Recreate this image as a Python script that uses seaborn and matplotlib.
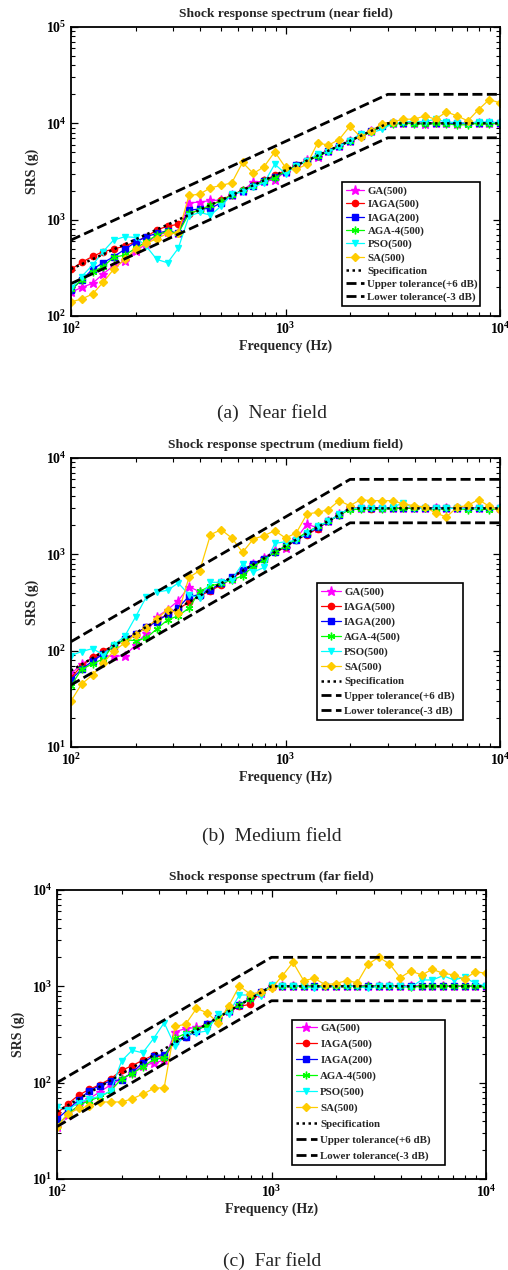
import matplotlib
matplotlib.use("Agg")
import matplotlib.pyplot as plt
import seaborn as sns
import pandas as pd
from matplotlib.ticker import LogLocator, NullFormatter

# ---------------- data ----------------
freq = [100, 112, 126, 141, 158, 178, 200, 224, 251, 282, 316, 355, 398, 447, 501,
        562, 631, 708, 794, 891, 1000, 1122, 1259, 1413, 1585, 1778, 1995, 2239, 2512,
        2818, 3162, 3548, 3981, 4467, 5012, 5623, 6310, 7079, 7943, 8913, 10000]

series_names = ["GA(500)", "IAGA(500)", "IAGA(200)", "AGA-4(500)", "PSO(500)", "SA(500)"]
ref_names = ["Specification", "Upper tolerance(+6 dB)", "Lower tolerance(-3 dB)"]

# near field
near_ga = [176, 198, 218, 273, 333, 372, 470, 560, 690, 740, 720, 1497, 1520, 1582, 1596, 1790, 2000,
           2450, 2500, 2600, 3150, 3600, 4150, 4500, 5200, 5800, 6500, 7500, 8300, 9500, 10000,
           10100, 10050, 9950, 10000, 10000, 9900, 10050, 10000, 10000, 10000]
near_iaga500 = [305, 360, 415, 465, 495, 532, 590, 665, 780, 858, 893, 1150, 1270, 1400, 1600, 1800,
                2020, 2280, 2560, 2880, 3240, 3650, 4100, 4620, 5200, 5850, 6580, 7400, 8320, 9360,
                10000, 10000, 10000, 10000, 10000, 10000, 10000, 10000, 10000, 10000, 10000]
near_iaga200 = [186, 236, 305, 357, 412, 491, 585, 665, 720, 767, 720, 1256, 1290, 1310, 1500, 1800,
                2000, 2250, 2550, 2780, 3100, 3650, 4100, 4600, 5200, 5850, 6550, 7400, 8300, 9400,
                10000, 10000, 10000, 10000, 10000, 10000, 10000, 10000, 10000, 10000, 10000]
near_aga4 = [189, 236, 288, 325, 406, 429, 503, 590, 692, 761, 720, 1161, 1256, 1415, 1580, 1790,
             2010, 2250, 2520, 2700, 3200, 3600, 4100, 4550, 5150, 5800, 6550, 7300, 8200, 9300,
             9800, 10000, 9900, 9800, 10000, 9900, 9600, 9700, 10000, 9900, 10000]
near_pso = [194, 256, 338, 465, 614, 665, 654, 532, 387, 357, 503, 1089, 1189, 1115, 1383, 1827,
            1950, 2200, 2400, 3770, 3000, 3600, 4100, 4800, 5000, 5700, 6500, 7840, 8000, 8630,
            10000, 10300, 10500, 10400, 11040, 10300, 10200, 10000, 10400, 10300, 10180]
near_sa = [140, 150, 169, 223, 305, 387, 491, 567, 634, 720, 720, 1783, 1840, 2143, 2265, 2415, 3925,
           3015, 3540, 5060, 3480, 3320, 3770, 6270, 5930, 6790, 9340, 7240, 8350, 9950, 10350,
           11040, 11040, 11950, 11040, 13150, 11950, 10610, 13900, 17660, 16300]
near_ref_freq = [100, 3000, 10000]
near_spec = [307, 10000, 10000]
near_upper = [614, 20000, 20000]
near_lower = [217, 7080, 7080]

# medium field
med_ga = [57, 73, 84, 89, 87, 89, 114, 152, 224, 266, 330, 460, 410, 430, 500, 560, 690, 790, 920,
          1100, 1150, 1450, 2060, 1880, 2200, 2600, 3000, 3000, 3000, 3000, 3000, 3000, 3000, 3000,
          3000, 3000, 3000, 3000, 3000, 3000, 3000]
med_iaga500 = [52, 70, 85, 100, 113, 131, 150, 175, 205, 238, 270, 320, 371, 420, 480, 560, 672, 780,
               904, 1049, 1180, 1412, 1600, 1850, 2200, 2558, 3000, 3000, 2950, 3000, 3000, 3000,
               3000, 3000, 3000, 3000, 3000, 3000, 3000, 3000, 3000]
med_iaga200 = [50, 64, 78, 92, 113, 131, 150, 175, 200, 240, 280, 366, 381, 430, 499, 580, 693, 790,
               904, 1049, 1217, 1400, 1640, 1900, 2200, 2558, 3000, 3000, 3000, 3050, 3000, 3000,
               3000, 3000, 3000, 3000, 3000, 3000, 3000, 3000, 3000]
med_aga4 = [43, 64, 73, 82, 115, 130, 127, 135, 168, 209, 230, 277, 412, 470, 500, 540, 600, 750, 880,
            1049, 1217, 1450, 1700, 1950, 2205, 2558, 2900, 2950, 3000, 2950, 3000, 3000, 3000, 3000,
            2950, 3000, 3000, 2900, 3000, 2900, 3000]
med_pso = [89, 98, 105, 91, 115, 141, 224, 358, 406, 423, 504, 381, 352, 512, 512, 546, 800, 656,
           730, 1300, 1350, 1397, 1650, 1950, 2200, 2600, 3000, 3000, 3000, 3000, 3100, 3410, 3000,
           3000, 3000, 3000, 3000, 3000, 3000, 3000, 3000]
med_sa = [30, 45, 56, 74, 99, 120, 147, 172, 213, 267, 246, 577, 677, 1600, 1803, 1478, 1049, 1443,
          1563, 1762, 1478, 1665, 2622, 2730, 2909, 3607, 3200, 3690, 3607, 3607, 3607, 3330, 3200,
          3100, 2685, 2442, 3075, 3226, 3690, 3150, 2863]
med_ref_freq = [100, 2000, 10000]
med_spec = [62, 3000, 3000]
med_upper = [124, 6000, 6000]
med_lower = [44, 2124, 2124]

# far field
far_ga = [35, 46, 58, 68, 80, 95, 110, 125, 150, 160, 171, 337, 365, 374, 400, 470, 550, 640, 740,
          860, 1000, 1000, 1000, 1000, 1000, 1000, 1000, 1000, 1000, 1020, 1000, 1000, 1000, 1000,
          1000, 1000, 1000, 1000, 1000, 1000, 1000]
far_iaga500 = [48, 60, 74, 85, 95, 110, 134, 150, 171, 193, 180, 270, 300, 350, 410, 470, 550, 620,
               650, 880, 1000, 1000, 1000, 1000, 1000, 1000, 1000, 1000, 1000, 1000, 1000, 1010, 1000,
               1000, 1000, 1000, 1000, 1000, 1000, 1000, 1000]
far_iaga200 = [42, 52, 66, 82, 93, 105, 107, 128, 160, 190, 195, 270, 300, 340, 410, 470, 550, 640,
               750, 880, 1000, 1000, 1000, 1000, 1000, 1000, 1000, 1000, 1000, 1000, 1000, 1000, 1000,
               1000, 1000, 1000, 1000, 1000, 1000, 1000, 1000]
far_aga4 = [35, 47, 58, 65, 71, 82, 110, 124, 146, 174, 181, 290, 324, 360, 385, 470, 550, 640, 740,
            860, 1000, 1000, 1000, 1000, 1000, 1000, 1000, 1000, 1000, 1000, 1000, 1000, 1000, 980,
            1000, 1000, 1000, 1000, 1000, 1000, 1000]
far_pso = [56, 52, 62, 68, 72, 82, 168, 217, 204, 287, 419, 239, 311, 329, 345, 511, 520, 813, 813,
           800, 1032, 1000, 1010, 1000, 953, 1000, 1000, 1000, 1000, 953, 1000, 1000, 1000, 980, 1164,
           1164, 1291, 1164, 1241, 1075, 1000]
far_sa = [35, 47, 54, 57, 63, 63, 63, 68, 76, 87, 89, 383, 405, 590, 532, 419, 624, 1008, 832, 870,
          953, 1282, 1778, 1146, 1212, 1040, 1070, 1146, 1092, 1694, 2005, 1710, 1231, 1445, 1312,
          1503, 1366, 1312, 1183, 1421, 1366]
far_ref_freq = [100, 1000, 10000]
far_spec = [50, 1000, 1000]
far_upper = [100, 2000, 2000]
far_lower = [35, 708, 708]

# ---------------- styling ----------------
sns.set_theme(style="ticks")
plt.rcParams["font.family"] = ["Liberation Serif", "DejaVu Serif"]
plt.rcParams["font.weight"] = "bold"
plt.rcParams["axes.labelweight"] = "bold"
plt.rcParams["axes.titleweight"] = "bold"

colors = ["#FF00FF", "#FF0000", "#0000FF", "#00FF00", "#00FFFF", "#FFCC00"]
markers = ["*", "o", "s", (6, 2, 0), "v", "D"]
msizes = [6.5, 4.5, 4.0, 5.5, 5.0, 4.0]

fig = plt.figure(figsize=(5.08, 12.7), dpi=100)
W, H = 508.0, 1270.0

panels = [
    dict(box=(71, 27, 500, 316), ylim=(1e2, 1e5), title="Shock response spectrum (near field)",
         data=[near_ga, near_iaga500, near_iaga200, near_aga4, near_pso, near_sa],
         rf=near_ref_freq, refs=[near_spec, near_upper, near_lower],
         leg=(342, 306, 480), legsp=0.32, hl=1.7, cap="(a)  Near field", capy=413),
    dict(box=(71, 458, 500, 747), ylim=(1e1, 1e4), title="Shock response spectrum (medium field)",
         data=[med_ga, med_iaga500, med_iaga200, med_aga4, med_pso, med_sa],
         rf=med_ref_freq, refs=[med_spec, med_upper, med_lower],
         leg=(317, 720, 463), legsp=0.47, hl=1.85, cap="(b)  Medium field", capy=836),
    dict(box=(57, 890, 486, 1179), ylim=(1e1, 1e4), title="Shock response spectrum (far field)",
         data=[far_ga, far_iaga500, far_iaga200, far_aga4, far_pso, far_sa],
         rf=far_ref_freq, refs=[far_spec, far_upper, far_lower],
         leg=(292, 1165, 445), legsp=0.57, hl=1.95, cap="(c)  Far field", capy=1261),
]

for p in panels:
    x0, y0, x1, y1 = p["box"]
    ax = fig.add_axes([x0 / W, 1 - y1 / H, (x1 - x0) / W, (y1 - y0) / H])
    ax.set_xscale("log")
    ax.set_yscale("log")
    handles = []
    for name, vals, c, m, ms in zip(series_names, p["data"], colors, markers, msizes):
        df = pd.DataFrame({"f": freq, "v": vals})
        sns.lineplot(data=df, x="f", y="v", ax=ax, color=c, marker=m, markersize=ms,
                     markeredgecolor=c, markerfacecolor=c, markeredgewidth=1.0,
                     linewidth=0.9, estimator=None, errorbar=None, sort=False, legend=False)
        handles.append(ax.lines[-1])
    styles = [(0, (1.0, 1.4)), (0, (3.6, 1.6)), (0, (3.6, 1.6))]
    lws = [1.8, 2.0, 2.0]
    for name, vals, ls, lw in zip(ref_names, p["refs"], styles, lws):
        df = pd.DataFrame({"f": p["rf"], "v": vals})
        sns.lineplot(data=df, x="f", y="v", ax=ax, color="black", linestyle=ls, linewidth=lw,
                     estimator=None, errorbar=None, sort=False, legend=False)
        ln = ax.lines[-1]
        ln.set_dash_capstyle("butt")
        handles.append(ln)

    ax.set_xlim(1e2, 1e4)
    ax.set_ylim(*p["ylim"])
    ax.xaxis.set_major_locator(LogLocator(base=10, numticks=10))
    ax.yaxis.set_major_locator(LogLocator(base=10, numticks=10))
    ax.xaxis.set_minor_locator(LogLocator(base=10, subs=range(2, 10), numticks=20))
    ax.yaxis.set_minor_locator(LogLocator(base=10, subs=range(2, 10), numticks=20))
    ax.xaxis.set_minor_formatter(NullFormatter())
    ax.yaxis.set_minor_formatter(NullFormatter())
    ax.tick_params(which="both", direction="in", top=True, right=True, colors="black",
                   labelsize=10)
    ax.tick_params(axis="x", which="major", pad=3.5)
    ax.tick_params(axis="y", which="major", pad=3)
    ax.tick_params(which="major", length=5, width=0.9)
    ax.tick_params(which="minor", length=3, width=0.8)
    for s in ax.spines.values():
        s.set_linewidth(1.3)
        s.set_color("black")
    ax.set_xlabel("Frequency (Hz)", fontsize=10, labelpad=2)
    ax.set_ylabel("SRS (g)", fontsize=10, labelpad=5)
    ax.set_title(p["title"], fontsize=9.7, pad=7)

    lx0, ly1, lx1 = p["leg"]
    ax_w, ax_h = x1 - x0, y1 - y0
    anchor = ((lx0 - x0) / ax_w, (y1 - ly1) / ax_h, (lx1 - lx0) / ax_w, 0.3)
    leg = ax.legend(handles, series_names + ref_names, loc="lower left", mode="expand",
                    bbox_to_anchor=anchor, borderaxespad=0, frameon=True, fancybox=False,
                    framealpha=1, edgecolor="black", handlelength=p["hl"], handletextpad=0.3,
                    labelspacing=p["legsp"], borderpad=0.35,
                    prop=dict(family="Liberation Serif", weight="bold", size=7.8))
    leg.get_frame().set_linewidth(1.2)
    fig.text(272 / W, 1 - p["capy"] / H, p["cap"], ha="center", va="center", fontsize=14,
             fontweight="normal", family="Liberation Serif")

fig.savefig("out.png", dpi=100)
